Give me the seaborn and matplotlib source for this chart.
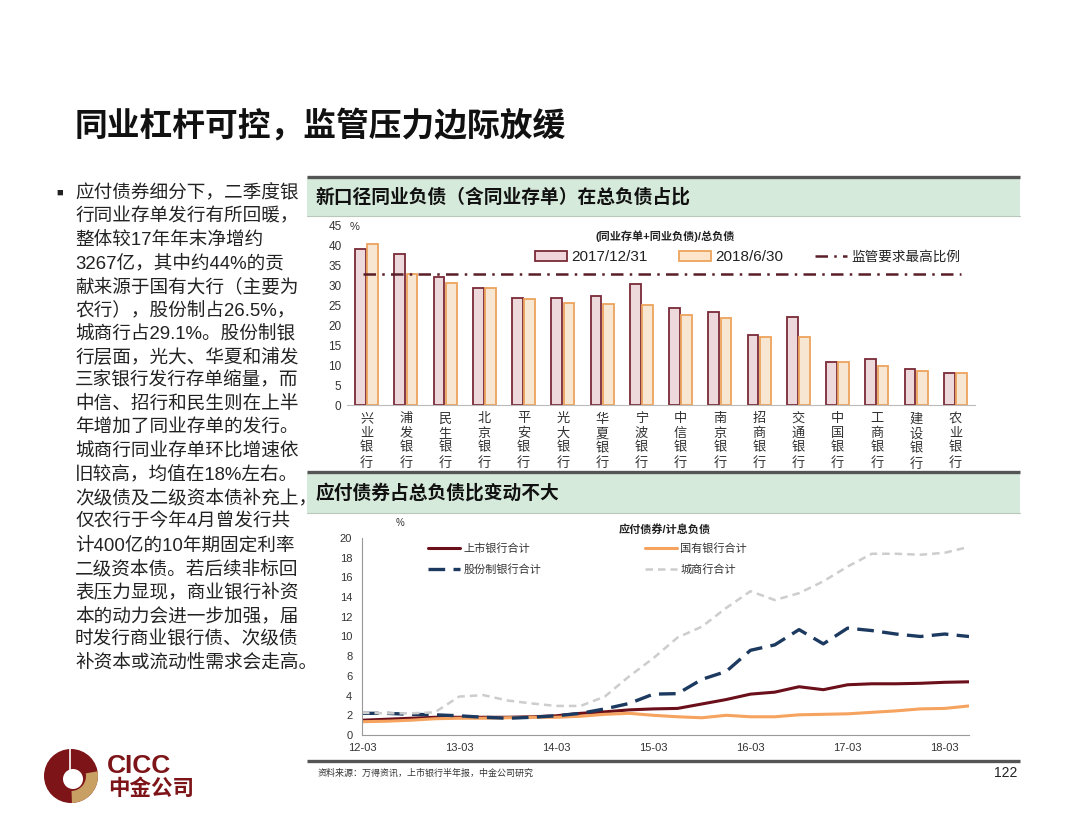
import numpy as np
import pandas as pd
import matplotlib
matplotlib.use("Agg")
import matplotlib.pyplot as plt
from matplotlib.patches import Rectangle, Patch, Wedge, Circle
from matplotlib.lines import Line2D
import seaborn as sns

# ---- data: bar chart (同业负债 / 总负债, %) ----
banks = ["兴业银行", "浦发银行", "民生银行", "北京银行", "平安银行", "光大银行", "华夏银行", "宁波银行",
         "中信银行", "南京银行", "招商银行", "交通银行", "中国银行", "工商银行", "建设银行", "农业银行"]
ratio_2017 = [39.2, 37.9, 32.1, 29.4, 26.9, 26.9, 27.3, 30.3, 24.4, 23.3, 17.6, 22.2, 10.7, 11.6, 9.0, 8.0]
ratio_2018 = [40.4, 33.0, 30.7, 29.4, 26.6, 25.7, 25.3, 25.2, 22.6, 21.8, 17.1, 17.0, 10.8, 9.9, 8.5, 8.0]
reg_cap = 33
bar_dates = ["2017/12/31", "2018/6/30"]

# ---- data: line chart (应付债券 / 计息负债, %) quarterly 12-03 .. 18-06 ----
quarters = [f"{y}-{m}" for y in range(12, 19) for m in ("03", "06", "09", "12")][:26]
listed = [1.5, 1.6, 1.7, 1.8, 1.8, 1.8, 1.8, 1.85, 1.95, 2.2, 2.35, 2.55, 2.65,
          2.7, 3.15, 3.6, 4.15, 4.35, 4.9, 4.6, 5.1, 5.2, 5.2, 5.25, 5.35, 5.4]
state = [1.35, 1.4, 1.5, 1.65, 1.7, 1.7, 1.75, 1.8, 1.8, 1.9, 2.1, 2.2, 2.0,
         1.85, 1.75, 2.0, 1.85, 1.85, 2.05, 2.1, 2.15, 2.3, 2.45, 2.65, 2.7, 2.95]
joint = [2.2, 2.2, 2.1, 2.05, 1.95, 1.8, 1.7, 1.8, 1.95, 2.2, 2.65, 3.2, 4.15,
         4.2, 5.65, 6.45, 8.6, 9.15, 10.7, 9.25, 10.85, 10.6, 10.25, 10.0, 10.25, 10.0]
city = [2.25, 2.2, 2.2, 2.3, 3.9, 4.05, 3.5, 3.2, 2.95, 2.95, 3.9, 5.95, 7.8,
        9.9, 11.0, 12.9, 14.6, 13.7, 14.4, 15.6, 17.1, 18.4, 18.4, 18.3, 18.5, 19.1]
line_names = ["上市银行合计", "国有银行合计", "股份制银行合计", "城商行合计"]

body_lines = [
    "应付债券细分下，二季度银",
    "行同业存单发行有所回暖，",
    "整体较17年年末净增约",
    "3267亿，其中约44%的贡",
    "献来源于国有大行（主要为",
    "农行），股份制占26.5%，",
    "城商行占29.1%。股份制银",
    "行层面，光大、华夏和浦发",
    "三家银行发行存单缩量，而",
    "中信、招行和民生则在上半",
    "年增加了同业存单的发行。",
    "城商行同业存单环比增速依",
    "旧较高，均值在18%左右。",
    "次级债及二级资本债补充上，",
    "仅农行于今年4月曾发行共",
    "计400亿的10年期固定利率",
    "二级资本债。若后续非标回",
    "表压力显现，商业银行补资",
    "本的动力会进一步加强，届",
    "时发行商业银行债、次级债",
    "补资本或流动性需求会走高。",
]

sns.set_style("white")
plt.rcParams["font.family"] = ["Liberation Sans", "Noto Sans CJK SC", "DejaVu Sans"]

W, H = 1080, 834
fig = plt.figure(figsize=(W / 100, H / 100), dpi=100)


def box(l, t, r, b):
    return [l / W, 1 - b / H, (r - l) / W, (b - t) / H]


# page layer in pixel coordinates
bg = fig.add_axes([0, 0, 1, 1], zorder=-1)
bg.set_xlim(0, W)
bg.set_ylim(H, 0)
bg.axis("off")

bg.text(75, 126, "同业杠杆可控，监管压力边际放缓", fontsize=23.6, fontweight="bold",
        va="center", ha="left", color="#111111")

bg.text(60, 193, "■", fontsize=8, va="center", ha="center", color="#222222")
for i, s in enumerate(body_lines):
    bg.text(75, 193 + i * 23.5, s, fontsize=13.4, va="center", ha="left", color="#222222")

green = "#d6eadb"
for top, bottom, title in [(177, 216, "新口径同业负债（含同业存单）在总负债占比"),
                           (472, 513, "应付债券占总负债比变动不大")]:
    bg.add_patch(Rectangle((307, top), 713, bottom - top, facecolor=green, edgecolor="none"))
    bg.plot([307, 1020], [top, top], color="#555555", lw=2.4, solid_capstyle="butt")
    bg.plot([307, 1020], [bottom, bottom], color="#b8c8bb", lw=0.8)
    bg.text(316, (top + bottom) / 2 + 1, title, fontsize=13.5, fontweight="bold",
            va="center", ha="left", color="#111111")

bg.plot([307, 1020], [761, 761], color="#555555", lw=2.4, solid_capstyle="butt")
bg.text(318, 773, "资料来源：万得资讯，上市银行半年报，中金公司研究", fontsize=6.5,
        va="center", ha="left", color="#333333")
bg.text(1017, 773, "122", fontsize=10, va="center", ha="right", color="#222222")

# CICC logo
red = "#7d1418"
gold = "#c9a063"
bg.add_patch(Circle((71, 776), 27, facecolor=red, edgecolor="none"))
bg.add_patch(Wedge((71, 776), 27, -10, 88, width=12, facecolor=gold, edgecolor="none"))
bg.add_patch(Circle((73, 779), 10, facecolor="white", edgecolor="none"))
bg.plot([70, 70], [749, 770], color="white", lw=1.2)
bg.text(107, 766, "CICC", fontsize=19, fontweight="bold", va="center", ha="left", color=red)
bg.text(108, 789, "中金公司", fontsize=15.5, fontweight="bold", va="center", ha="left", color=red)

# ---- bar chart ----
pink, pink_edge = "#f0d5da", "#7a2a38"
cream, cream_edge = "#fde6cc", "#eda35c"
ax1 = fig.add_axes(box(347, 226, 975, 405))
ax1.patch.set_alpha(0)
df_bar = pd.DataFrame({
    "bank": banks * 2,
    "value": ratio_2017 + ratio_2018,
    "date": [bar_dates[0]] * len(banks) + [bar_dates[1]] * len(banks),
})
sns.barplot(data=df_bar, x="bank", y="value", hue="date", palette=[pink, cream],
            width=0.62, gap=0.12, linewidth=1.3, legend=False, ax=ax1)
for cont, ec in zip(ax1.containers, [pink_edge, cream_edge]):
    for bar in cont:
        bar.set_edgecolor(ec)
ax1.hlines(reg_cap, -0.1, 15.15, colors="#5a1e28", linestyles=(0, (5, 2.5, 1, 2.5)), lw=1.8)
ax1.set_xlim(-0.5, 15.5)
ax1.set_ylim(0, 45)
ax1.set_yticks(range(0, 46, 5))
ax1.set_xticks(range(len(banks)))
ax1.set_xticklabels(["\n".join(b) for b in banks], fontsize=9.5, linespacing=1.25)
ax1.set_xticks(np.arange(-0.5, 16, 1), minor=True)
ax1.tick_params(axis="x", which="major", length=0, pad=6, colors="#333333")
ax1.tick_params(axis="x", which="minor", length=3, color="#bbbbbb")
ax1.tick_params(axis="y", length=0, pad=4, labelsize=8.5, colors="#333333")
ax1.set_xlabel("")
ax1.set_ylabel("")
for sp in ["left", "top", "right"]:
    ax1.spines[sp].set_visible(False)
ax1.spines["bottom"].set_color("#bbbbbb")
bg.text(355, 227, "%", fontsize=8, va="center", ha="center", color="#333333")
bg.text(665, 236, "(同业存单+同业负债)/总负债", fontsize=8, fontweight="bold",
        va="center", ha="center", color="#222222")
bar_handles = [Patch(facecolor=pink, edgecolor=pink_edge, lw=1.3),
               Patch(facecolor=cream, edgecolor=cream_edge, lw=1.3),
               Line2D([], [], color="#5a1e28", lw=1.8, ls=(0, (5, 2.5, 1, 2.5)))]
leg1 = ax1.legend(bar_handles, bar_dates + ["监管要求最高比例"], ncol=3, frameon=False,
                  loc="center left", bbox_to_anchor=(535 / W, 1 - 257 / H),
                  bbox_transform=fig.transFigure, fontsize=11, handlelength=2.1,
                  handleheight=0.65, handletextpad=0.25, columnspacing=2.1, borderpad=0,
                  borderaxespad=0)
leg1.get_texts()[2].set_fontsize(9.8)
for t in leg1.get_texts():
    t.set_color("#222222")

# ---- line chart ----
ax2 = fig.add_axes(box(362, 538, 969, 735))
ax2.patch.set_alpha(0)
pos = np.arange(len(quarters))
styles = [
    (listed, "#6b0f1a", 2.2, "-"),
    (state, "#f5a35e", 2.2, "-"),
    (joint, "#1c3a60", 2.4, (0, (5, 2.5))),
    (city, "#cdcdcd", 1.8, (0, (3, 2))),
]
for (vals, col, lw, ls), name in zip(styles, line_names):
    sns.lineplot(x=pos, y=vals, color=col, lw=lw, linestyle=ls, label=name, ax=ax2)
ax2.set_xlim(0, 25)
ax2.set_ylim(0, 20)
ax2.set_yticks(range(0, 21, 2))
ax2.set_xticks(pos[::4])
ax2.set_xticklabels(quarters[::4])
ax2.tick_params(axis="x", direction="in", length=4, color="#999999", pad=6,
                labelsize=8, colors="#333333")
ax2.tick_params(axis="y", direction="out", length=4, color="#999999", pad=3,
                labelsize=8, colors="#333333")
for sp in ["top", "right"]:
    ax2.spines[sp].set_visible(False)
for sp in ["left", "bottom"]:
    ax2.spines[sp].set_color("#999999")
bg.text(400, 523, "%", fontsize=7, va="center", ha="center", color="#333333")
bg.text(665, 530, "应付债券/计息负债", fontsize=8, fontweight="bold",
        va="center", ha="center", color="#222222")
handles, labels = ax2.get_legend_handles_labels()
order = [0, 2, 1, 3]
leg = ax2.legend([handles[i] for i in order], [labels[i] for i in order],
                 ncol=2, frameon=False, loc="upper left",
                 bbox_to_anchor=(428 / W, 1 - 543 / H), bbox_transform=fig.transFigure,
                 fontsize=8, handlelength=2.9, handletextpad=0.3, columnspacing=9.3,
                 labelspacing=0.95, borderpad=0, borderaxespad=0)
for t in leg.get_texts():
    t.set_color("#333333")

fig.savefig("out.png", dpi=100)
